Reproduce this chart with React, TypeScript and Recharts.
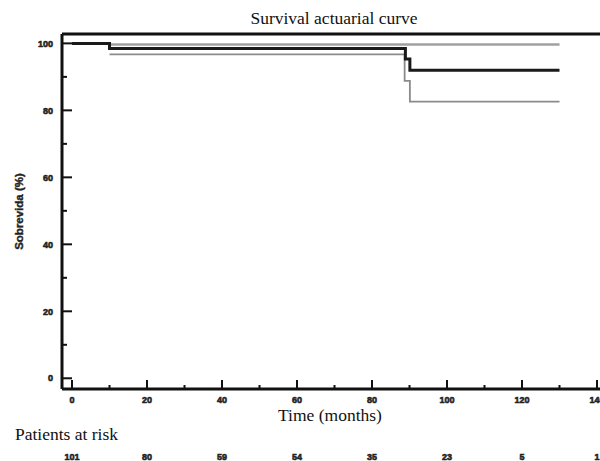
import React from "react";
import { LineChart, Line, XAxis, YAxis, ReferenceLine, Label } from "recharts";

const survivalMonths = [0, 10, 88.9, 90.1, 130];
const survivalPct = [100, 98.5, 95.3, 92.0, 92.0];
const upperMonths = [10, 130];
const upperPct = [99.7, 99.7];
const lowerMonths = [10, 88.7, 90.1, 130];
const lowerPct = [96.7, 88.8, 82.6, 82.6];

const xTicks = [0, 10, 20, 30, 40, 50, 60, 70, 80, 90, 100, 110, 120, 130, 140];
const yTicks = [0, 10, 20, 30, 40, 50, 60, 70, 80, 90, 100];
const riskMonths = [0, 20, 40, 60, 80, 100, 120, 140];
const riskCounts = [101, 80, 59, 54, 35, 23, 5, 1];

const X_MIN = -2.67;
const X_MAX = 140.8;
const Y_MIN = -3.2;
const Y_MAX = 102.8;

const survivalData = survivalMonths.map((m, i) => ({ m, v: survivalPct[i] }));
const upperData = upperMonths.map((m, i) => ({ m, v: upperPct[i] }));
const lowerData = lowerMonths.map((m, i) => ({ m, v: lowerPct[i] }));

const tickFont = {
  fontFamily: "'Liberation Sans', Arial, sans-serif",
  fontSize: 9,
  fontWeight: 700,
  fill: "#222",
  stroke: "#222",
  strokeWidth: 0.55,
};
const serif = "'Liberation Serif', 'Times New Roman', serif";

const XTick = (props: any) => {
  const { x, y, payload } = props;
  const v = payload.value;
  const major = v % 20 === 0;
  const idx = riskMonths.indexOf(v);
  return (
    <g>
      <line x1={x} x2={x} y1={y} y2={y - (major ? 9 : 4)} stroke="#111" strokeWidth={2} />
      {major && (
        <text x={x} y={y + 14} textAnchor="middle" {...tickFont}>
          {v}
        </text>
      )}
      {idx >= 0 && (
        <text x={x} y={y + 71} textAnchor="middle" {...tickFont}>
          {riskCounts[idx]}
        </text>
      )}
    </g>
  );
};

const YTick = (props: any) => {
  const { x, y, payload } = props;
  const v = payload.value;
  const major = v % 20 === 0;
  return (
    <g>
      <line x1={x} x2={x + (major ? 10 : 5)} y1={y} y2={y} stroke="#111" strokeWidth={2} />
      {major && (
        <text x={x - 9} y={y + 3.2} textAnchor="end" {...tickFont}>
          {v}
        </text>
      )}
    </g>
  );
};

const XLabel = (props: any) => {
  const vb = props.viewBox || {};
  const cx = vb.x + vb.width / 2 - 1;
  return (
    <g>
      <text x={cx} y={vb.y + 32} textAnchor="middle" fontFamily={serif} fontSize={17.5} fill="#111">
        Time (months)
      </text>
      <text x={15} y={vb.y + 51} textAnchor="start" fontFamily={serif} fontSize={17.5} fill="#111">
        Patients at risk
      </text>
    </g>
  );
};

const YLabel = (props: any) => {
  const vb = props.viewBox || {};
  const cx = vb.x + 19;
  const cy = vb.y + vb.height / 2;
  return (
    <text
      x={cx}
      y={cy}
      transform={`rotate(-90, ${cx}, ${cy})`}
      textAnchor="middle"
      dominantBaseline="central"
      fontFamily="'Liberation Sans', Arial, sans-serif"
      fontSize={11.5}
      fontWeight={700}
      fill="#222"
      stroke="#222"
      strokeWidth={0.4}
    >
      Sobrevida (%)
    </text>
  );
};

const TitleLabel = (props: any) => {
  const vb = props.viewBox || {};
  const cx = vb.x + vb.width / 2 + 3;
  return (
    <text x={cx} y={vb.y - 10} textAnchor="middle" fontFamily={serif} fontSize={17.5} fill="#111">
      Survival actuarial curve
    </text>
  );
};

export default function App() {
  return (
    <div style={{ position: "absolute", left: 0, top: 0, width: 600, height: 461, overflow: "hidden", background: "#fff" }}>
      <LineChart width={600} height={461} margin={{ top: 34, right: 0, bottom: 0, left: 0 }}>
        <XAxis
          type="number"
          dataKey="m"
          domain={[X_MIN, X_MAX]}
          allowDataOverflow
          ticks={xTicks}
          interval={0}
          tickSize={0}
          tickMargin={0}
          tickLine={false}
          tick={<XTick />}
          height={72}
          axisLine={{ stroke: "#111", strokeWidth: 3 }}
        >
          <Label content={<XLabel />} />
        </XAxis>
        <YAxis
          type="number"
          domain={[Y_MIN, Y_MAX]}
          allowDataOverflow
          ticks={yTicks}
          interval={0}
          tickSize={0}
          tickMargin={0}
          tickLine={false}
          tick={<YTick />}
          width={62}
          axisLine={{ stroke: "#111", strokeWidth: 3 }}
        >
          <Label content={<YLabel />} />
        </YAxis>
        <ReferenceLine y={Y_MAX} stroke="#111" strokeWidth={3} ifOverflow="visible">
          <Label content={<TitleLabel />} />
        </ReferenceLine>
        <Line data={upperData} dataKey="v" type="stepAfter" stroke="#a0a0a0" strokeWidth={2.5} dot={false} activeDot={false} isAnimationActive={false} />
        <Line data={lowerData} dataKey="v" type="stepAfter" stroke="#8a8a8a" strokeWidth={1.8} dot={false} activeDot={false} isAnimationActive={false} />
        <Line data={survivalData} dataKey="v" type="stepAfter" stroke="#1a1a1a" strokeWidth={3} dot={false} activeDot={false} isAnimationActive={false} />
      </LineChart>
    </div>
  );
}
